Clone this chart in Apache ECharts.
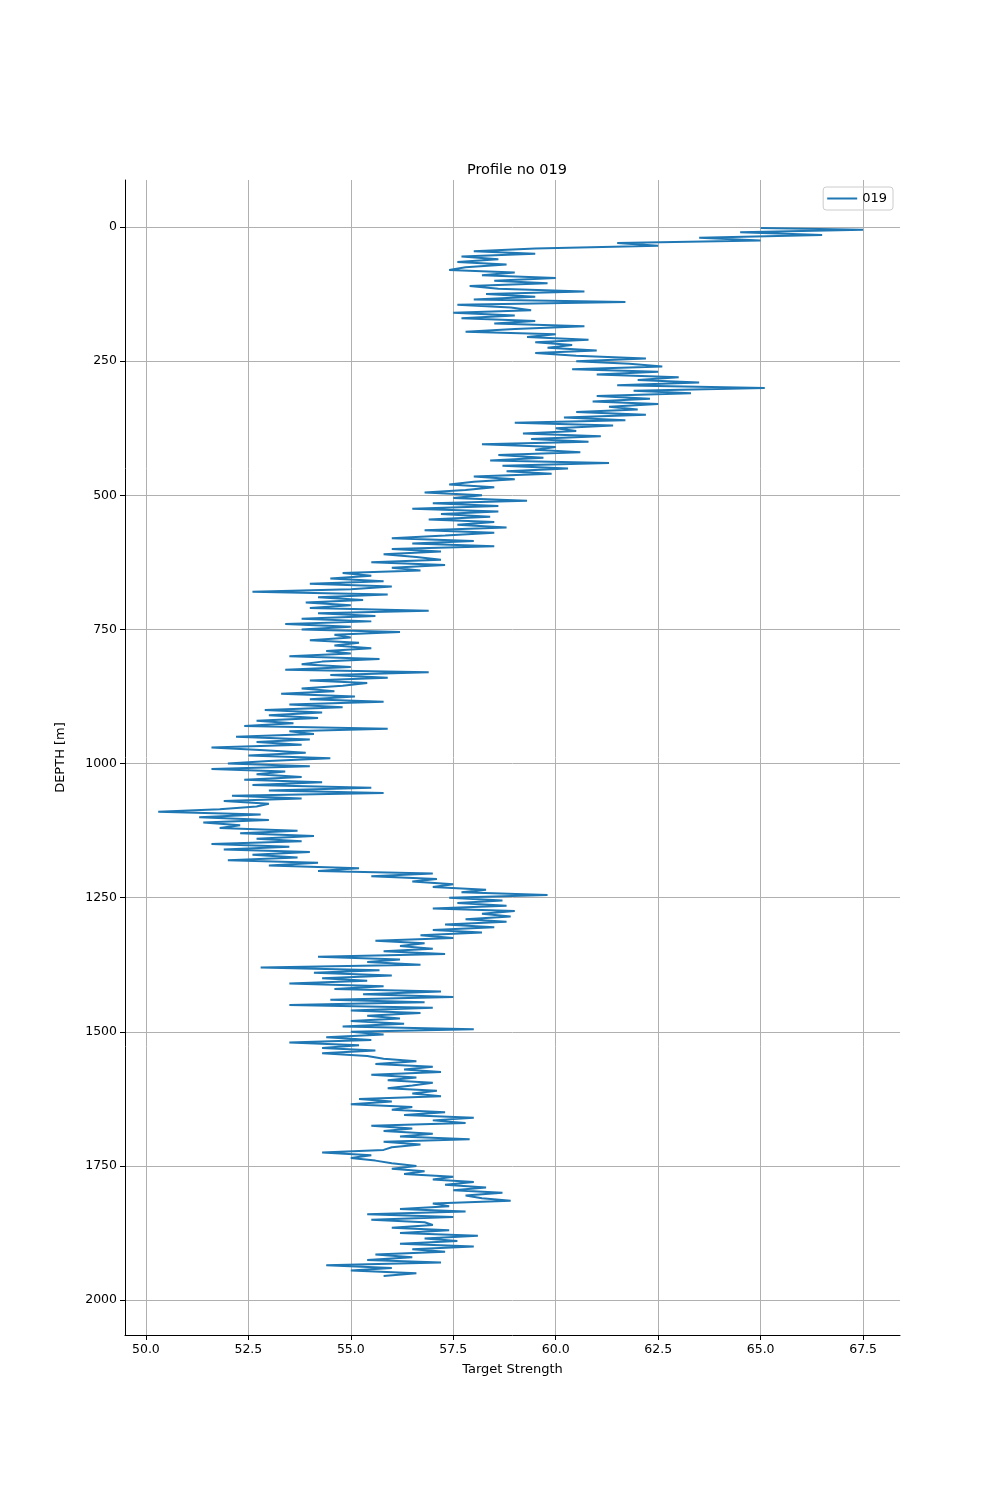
<!DOCTYPE html>
<html><head><meta charset="utf-8">
<script src="https://cdn.jsdelivr.net/npm/echarts@6/dist/echarts.min.js"></script>
<style>html,body{margin:0;padding:0;background:#fff}#c{width:1000px;height:1500px}</style>
</head><body><div id="c"></div>
<script>
const seriesName = "019";
const depthStart = 5, depthStep = 5;
const depthFirst = [2];
const valueFirst = [65.0];
const values = [
67.5,64.5,66.5,63.5,65.0,61.5,62.5,59.5,58.0,
59.5,57.7,58.6,57.6,58.8,57.8,57.4,59.0,58.2,60.0,
58.5,59.8,57.9,58.6,60.7,58.3,59.5,58.0,61.7,57.6,
58.9,59.4,57.5,59.0,57.7,59.5,58.5,60.7,59.0,57.8,
60.0,59.3,60.8,59.5,60.4,59.8,61.0,59.5,60.5,62.2,
60.5,61.8,62.6,60.4,62.5,61.0,63.0,62.0,63.5,61.5,
65.1,61.9,63.3,61.0,62.3,60.9,62.5,61.3,62.0,60.5,
62.2,60.2,61.7,59.0,61.4,60.0,60.5,59.2,61.1,59.4,
60.8,58.2,60.0,59.5,60.6,58.6,59.7,58.4,61.3,58.7,
60.3,58.8,59.9,58.0,59.0,58.0,57.4,58.5,57.8,56.8,
58.2,57.5,59.3,57.0,58.6,56.5,58.6,57.2,58.4,56.9,
58.5,57.6,58.8,56.8,58.5,57.3,56.0,58.0,56.5,58.5,
56.0,57.2,55.8,56.6,57.2,55.5,57.3,56.0,56.7,54.8,
55.5,54.5,55.8,54.0,56.0,55.0,52.6,55.9,54.2,55.3,
53.9,55.0,54.0,56.9,54.2,55.6,53.8,55.5,53.4,55.0,
53.8,56.2,54.6,55.0,54.0,55.2,54.6,55.5,54.4,55.0,
53.5,55.7,54.3,53.8,55.0,53.4,56.9,54.5,55.9,54.0,
55.4,54.8,53.8,54.6,53.3,55.1,54.0,55.8,53.5,54.8,
52.9,54.3,53.0,54.2,52.7,53.6,52.4,55.9,53.5,54.1,
52.2,54.0,52.7,53.8,51.6,52.9,53.9,52.5,54.5,53.0,
52.0,54.0,51.6,53.4,52.7,53.8,52.4,54.3,52.6,55.5,
53.0,55.8,52.1,53.8,51.9,53.0,52.7,51.8,50.3,52.8,
51.3,53.0,51.4,52.3,51.8,53.7,52.3,54.1,52.7,53.8,
51.6,53.5,51.9,54.0,52.6,53.7,52.0,54.2,53.0,55.2,
54.2,57.0,55.5,57.1,56.5,57.5,57.0,58.3,57.7,59.8,
57.4,58.7,57.6,58.8,57.0,59.0,58.2,58.9,57.8,58.8,
57.3,58.5,57.0,58.2,56.7,57.5,55.6,56.8,56.2,57.0,
55.8,57.3,54.2,56.2,55.4,56.7,52.8,55.7,54.1,56.0,
54.3,55.4,53.5,55.8,54.6,57.2,55.3,57.5,54.5,56.8,
53.5,57.0,55.0,56.7,55.4,56.2,55.0,56.3,54.8,58.0,
55.0,55.8,54.4,55.5,53.5,55.2,54.3,55.6,54.3,55.4,
55.8,56.6,55.6,57.0,56.3,57.2,55.5,56.6,55.9,57.0,
56.5,55.9,57.1,56.5,57.2,55.2,56.0,55.0,56.5,56.0,
57.3,56.3,58.0,57.0,57.8,55.5,56.5,55.8,57.0,56.2,
57.9,55.8,56.7,56.0,55.8,54.3,55.5,55.0,55.6,56.0,
56.6,56.0,56.8,56.3,57.5,57.0,58.0,57.3,58.3,57.5,
58.7,57.8,58.2,58.9,57.0,57.4,56.2,57.8,55.4,57.5,
55.5,56.8,57.0,56.0,57.4,56.2,58.1,56.8,57.6,56.2,
58.0,56.5,57.3,55.6,56.5,55.4,57.2,54.4,56.0,55.0,
56.6,55.8
];
const xTicks = [50.0,52.5,55.0,57.5,60.0,62.5,65.0,67.5];
const yTicks = [0,250,500,750,1000,1250,1500,1750,2000];

const data = depthFirst.map((d,i)=>[valueFirst[i], d]);
values.forEach((v,i)=>data.push([v, depthStart + i*depthStep]));

const chart = echarts.init(document.getElementById('c'));
const font = 'DejaVu Sans';
chart.setOption({
  animation:false,
  textStyle:{fontFamily:font},
  title:{text:'Profile no 019', left:512, top:158, textAlign:'center',
    textStyle:{fontSize:14.5, fontWeight:'normal', color:'#000', fontFamily:font}},
  legend:{right:107, top:187, orient:'vertical', itemWidth:30, itemHeight:2,
    borderColor:'#ccc', borderWidth:1, borderRadius:3, padding:[5,6,5,4],
    textStyle:{fontSize:13, color:'#000', fontFamily:font},
    data:[{name:seriesName, icon:'rect'}]},
  grid:{left:125, right:100, top:180, bottom:165},
  xAxis:{type:'value', min:49.49, max:68.4, name:'Target Strength', nameLocation:'middle', nameGap:28,
    nameTextStyle:{fontSize:13, color:'#000'},
    axisLine:{onZero:false, lineStyle:{color:'#000'}},
    axisTick:{customValues:xTicks, length:5, lineStyle:{color:'#000'}},
    axisLabel:{customValues:xTicks, formatter:v=>v.toFixed(1), color:'#000', fontSize:12.5, margin:8},
    splitLine:{show:true, lineStyle:{color:'#b0b0b0', width:1}}},
  yAxis:{type:'value', inverse:true, min:-87.6, max:2065, name:'DEPTH [m]', nameLocation:'middle', nameGap:58,
    nameTextStyle:{fontSize:13, color:'#000'},
    axisLine:{onZero:false, lineStyle:{color:'#000'}},
    axisTick:{customValues:yTicks, length:5, lineStyle:{color:'#000'}},
    axisLabel:{customValues:yTicks, formatter:v=>String(v), color:'#000', fontSize:12.5, margin:8},
    splitLine:{show:true, lineStyle:{color:'#b0b0b0', width:1}}},
  series:[{name:seriesName, type:'line', data:data, symbol:'none',
    lineStyle:{color:'#1f77b4', width:2}, itemStyle:{color:'#1f77b4'}}]
});
</script></body></html>
